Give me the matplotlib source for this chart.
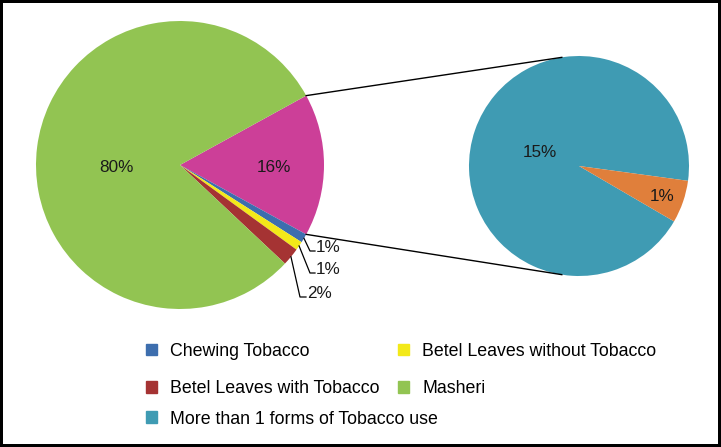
import numpy as np
import matplotlib.pyplot as plt
from matplotlib.patches import Rectangle

plt.rcParams['font.family'] = ['Liberation Sans', 'DejaVu Sans']

# data (main pie, clockwise from the "other" wedge)
main_labels = ["Other", "Chewing Tobacco", "Betel Leaves without Tobacco",
               "Betel Leaves with Tobacco", "Masheri"]
main_values = [16, 1, 1, 2, 80]
main_colors = ["#cc3f98", "#3d6eae", "#f3e919", "#a53333", "#92c452"]

# breakdown of the 16%
sub_labels = ["More than 1 forms of Tobacco use", "Other forms"]
sub_values = [15, 1]
sub_colors = ["#3f9bb3", "#e07f3b"]

W, H = 721, 447
fig = plt.figure(figsize=(W / 100, H / 100), dpi=100)
ax = fig.add_axes([0, 0, 1, 1])

# pixel-like coordinates (y up)
c1 = (180, H - 165)
r1 = 144
c2 = (579, H - 166)
r2 = 110

wedges1, _ = ax.pie(main_values, colors=main_colors, center=c1, radius=r1,
                    startangle=28.8, counterclock=False,
                    wedgeprops=dict(linewidth=0))
wedges2, _ = ax.pie(sub_values, colors=sub_colors, center=c2, radius=r2,
                    startangle=-7.75, counterclock=True,
                    wedgeprops=dict(linewidth=0))
ax.set_xlim(0, W)
ax.set_ylim(0, H)
ax.set_aspect('equal')
ax.axis('off')


def mid(w):
    return np.deg2rad((w.theta1 + w.theta2) / 2)


def pt(center, r, ang):
    return center[0] + r * np.cos(ang), center[1] + r * np.sin(ang)


# inside labels
fs = 12.3
inside = [(c1, r1, 0.44, 182.7, f"{main_values[4]}%"),
          (c1, r1, 0.65, -1.5, f"{main_values[0]}%"),
          (c2, r2, 0.38, 161.0, f"{sub_values[0]}%"),
          (c2, r2, 0.80, -20.0, f"{sub_values[1]}%")]
for c, r, d, ang, s in inside:
    x, y = pt(c, d * r, np.deg2rad(ang))
    ax.text(x, y, s, ha='center', va='center', fontsize=fs, color='#1a1a1a')

# small wedges with leader lines
leader = [(1, (310, 251), (315, 251)),
          (2, (310, 273), (315, 273)),
          (3, (300, 297), (306, 297))]
for i, (bx, by), (tx, ty) in leader:
    sx, sy = pt(c1, r1, mid(wedges1[i]))
    ax.plot([sx, bx, tx], [sy, H - by, H - ty], color='black', lw=0.9)
    ax.text(tx + 1, H - ty + 3, f"{main_values[i]}%", ha='left', va='center',
            fontsize=fs, color='#1a1a1a')

# connector lines between pies
a_top = np.deg2rad(wedges1[0].theta2)
a_bot = np.deg2rad(wedges1[0].theta1)
p1 = pt(c1, r1, a_top)
p2 = pt(c2, r2, np.deg2rad(99))
ax.plot([p1[0], p2[0]], [p1[1], p2[1]], color='black', lw=1)
p1 = pt(c1, r1, a_bot)
p2 = pt(c2, r2, np.deg2rad(-99))
ax.plot([p1[0], p2[0]], [p1[1], p2[1]], color='black', lw=1)

# legend (two rows of two, then one)
lfs = 12.8
kw = dict(frameon=False, fontsize=lfs, handlelength=0.62, handleheight=0.62,
          handletextpad=0.73, borderpad=0, borderaxespad=0)
h = {n: Rectangle((0, 0), 1, 1, color=c)
     for n, c in zip(main_labels + sub_labels, main_colors + sub_colors)}
top_names = [main_labels[1], main_labels[3], main_labels[2], main_labels[4]]
fig.legend([h[n] for n in top_names], top_names, ncol=2,
           loc='center left', bbox_to_anchor=(146 / W, 1 - 370 / H),
           columnspacing=1.05, labelspacing=1.17, **kw)
fig.legend([h[sub_labels[0]]], [sub_labels[0]], loc='center left',
           bbox_to_anchor=(146 / W, 1 - 419 / H), **kw)

fig.patch.set_edgecolor('black')
fig.patch.set_linewidth(4)
fig.savefig('out.png', dpi=100, edgecolor=fig.get_edgecolor())
